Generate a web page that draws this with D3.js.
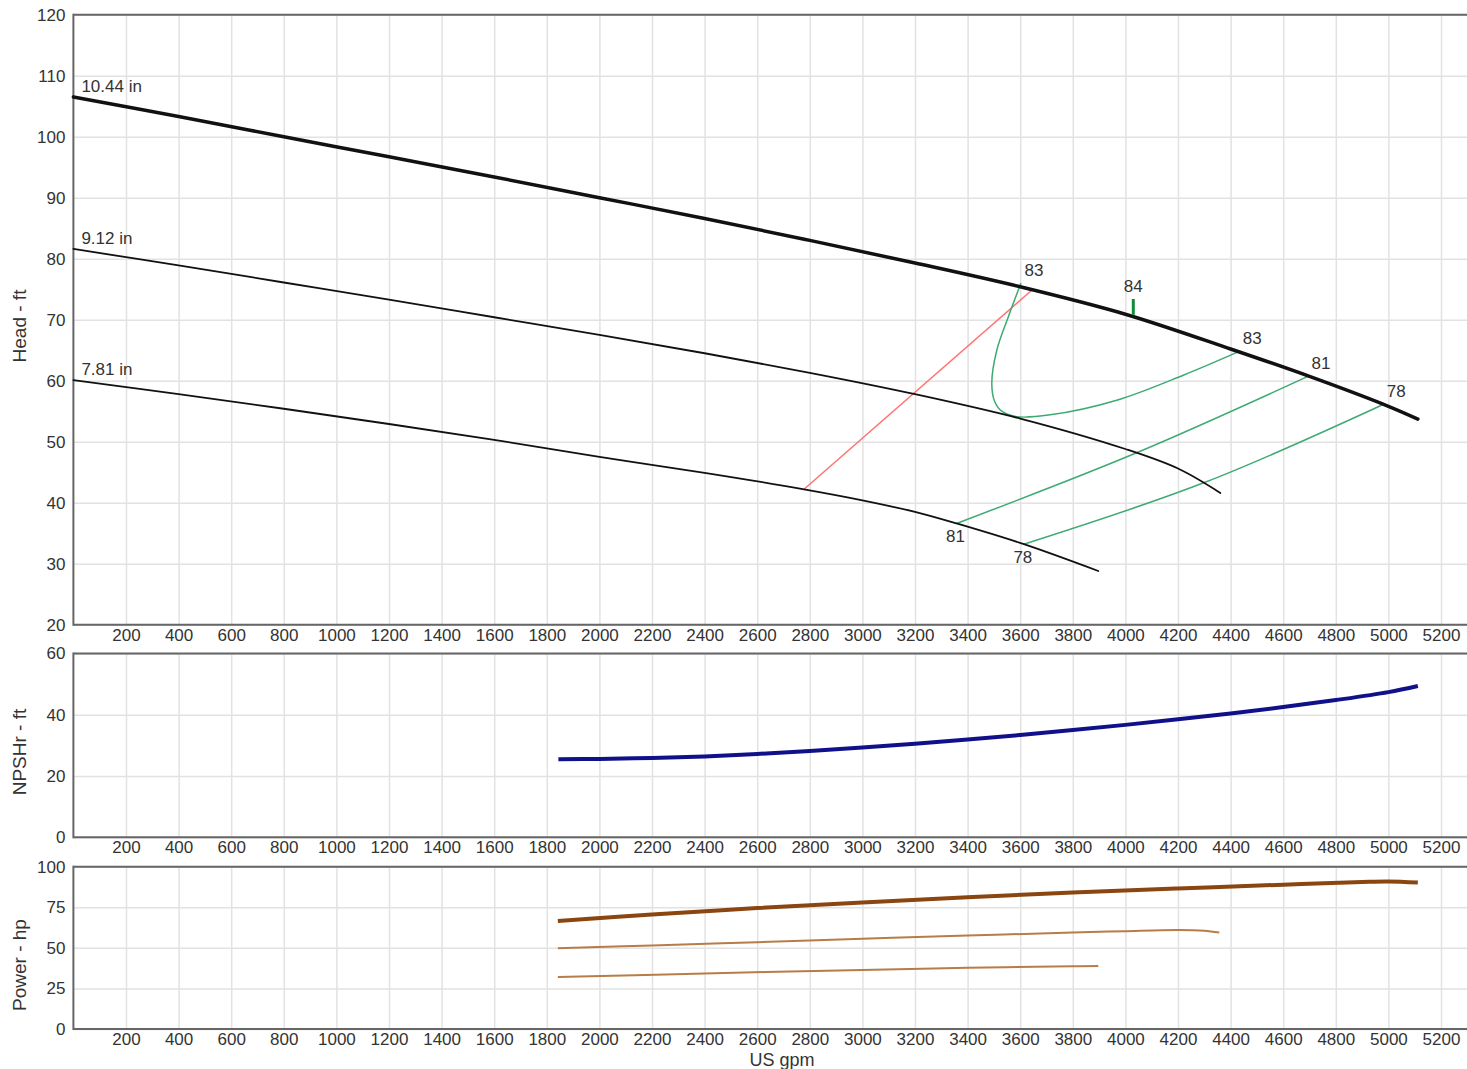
<!DOCTYPE html>
<html>
<head>
<meta charset="utf-8">
<script src="https://cdn.jsdelivr.net/npm/d3@7"></script>
<style>
  body { margin: 0; background: #fff; }
  text { font-family: "Liberation Sans", Arial, sans-serif; fill: #333; }
</style>
</head>
<body>
<div class="container"></div>
<script>
// head curves, [US gpm, ft]
const head1044 = [[0,106.5],[400,103.3],[800,100.0],[1200,96.7],[1600,93.4],[2000,90.0],[2400,86.6],[2800,83.0],[3200,79.3],[3600,75.4],[4000,70.9],[4400,65.2],[4700,60.7],[5000,55.8],[5112,53.7]];
const head912 = [[0,81.6],[400,78.9],[800,76.1],[1200,73.3],[1600,70.4],[2000,67.5],[2400,64.5],[2800,61.3],[3200,57.8],[3600,53.8],[4000,48.8],[4200,45.6],[4361,41.6]];
const head781 = [[0,60.1],[400,57.8],[800,55.4],[1200,52.9],[1600,50.3],[2000,47.5],[2400,44.9],[2778,42.2],[3000,40.4],[3200,38.5],[3358,36.6],[3614,33.2],[3897,28.8]];
const diameters = ["10.44 in", "9.12 in", "7.81 in"];

// efficiency (iso) lines
const eff83 = [[3603,76.0],[3555,70.5],[3511,65.0],[3492,59.6],[3503,56.6],[3530,55.0],[3587,54.1],[3714,54.4],[3967,56.8],[4220,60.9],[4433,64.8]];
const eff81 = [[3358,36.6],[4038,48.1],[4694,60.7]];
const eff78 = [[3614,33.2],[4300,43.3],[4980,56.1]];
const bepLine = [[2778,42.2],[3648,75.0]];
const eff84 = [[4030,70.8],[4030,73.4]];
const effLabels = [
  { text: "83", gpm: 3603, head: 76.0, pos: "above" },
  { text: "84", gpm: 4030, head: 73.4, pos: "top" },
  { text: "83", gpm: 4433, head: 64.8, pos: "above" },
  { text: "81", gpm: 4694, head: 60.7, pos: "above" },
  { text: "78", gpm: 4980, head: 56.1, pos: "above" },
  { text: "81", gpm: 3358, head: 36.6, pos: "below" },
  { text: "78", gpm: 3614, head: 33.2, pos: "below" }
];

// NPSHr, [US gpm, ft]
const npshr = [[1844,25.5],[2000,25.6],[2200,25.9],[2400,26.4],[2600,27.2],[2800,28.2],[3000,29.3],[3200,30.5],[3400,31.9],[3600,33.4],[3800,35.0],[4000,36.7],[4200,38.5],[4400,40.4],[4600,42.5],[4800,44.8],[5000,47.4],[5112,49.4]];

// power, [US gpm, hp]
const power1044 = [[1842,66.5],[2200,70.5],[2600,74.5],[3000,78.0],[3400,81.2],[3800,84.1],[4200,86.6],[4600,88.9],[4900,90.6],[5000,90.9],[5112,90.2]];
const power912 = [[1842,49.8],[2200,51.5],[2600,53.5],[3000,55.6],[3400,57.6],[3800,59.4],[4000,60.3],[4200,61.0],[4300,60.5],[4357,59.4]];
const power781 = [[1842,32.0],[2400,34.2],[3000,36.4],[3400,37.7],[3800,38.7],[3897,38.8]];

// tick labels
const gpmTicks = d3.range(200, 5201, 200);
const headTicks = [20, 30, 40, 50, 60, 70, 80, 90, 100, 110, 120];
const npshTicks = [0, 20, 40, 60];
const powerTicks = [0, 25, 50, 75, 100];

const width = 1467;
const height = 1069;

const svg = d3.select(".container")
  .append("svg")
  .attr("width", width)
  .attr("height", height);

const xScale = d3.scaleLinear()
  .domain([0, 5300])
  .range([73.4, 1467.3]);

// one panel per quantity
const panels = [
  { title: "Head - ft", top: 14.7, bottom: 624.7, titleY: 326, domain: [20, 120], ticks: headTicks },
  { title: "NPSHr - ft", top: 653.5, bottom: 837.3, titleY: 752, domain: [0, 60], ticks: npshTicks },
  { title: "Power - hp", top: 866.7, bottom: 1029, titleY: 965, domain: [0, 100], ticks: powerTicks }
];

const font = '"Liberation Sans", Arial, sans-serif';

panels.forEach(p => {
  p.y = d3.scaleLinear().domain(p.domain).range([p.bottom, p.top]);
  const h = p.bottom - p.top;

  // vertical grid
  svg.append("g")
    .attr("transform", `translate(0, ${p.bottom})`)
    .call(d3.axisBottom(xScale).tickValues(gpmTicks).tickSize(-h).tickFormat(""))
    .call(g => g.select(".domain").remove())
    .call(g => g.selectAll("line").attr("stroke", "#e2e2e2").attr("stroke-width", 1.5));

  // horizontal grid
  svg.append("g")
    .attr("transform", `translate(${xScale(0)}, 0)`)
    .call(d3.axisLeft(p.y).tickValues(p.ticks).tickSize(-(width - xScale(0))).tickFormat(""))
    .call(g => g.select(".domain").remove())
    .call(g => g.selectAll("line").attr("stroke", "#e2e2e2").attr("stroke-width", 1.5));

  // x labels
  svg.append("g")
    .attr("transform", `translate(0, ${p.bottom})`)
    .call(d3.axisBottom(xScale).tickValues(gpmTicks).tickSize(0).tickPadding(4).tickFormat(d3.format("d")))
    .call(g => g.select(".domain").remove())
    .call(g => g.selectAll("text").attr("font-size", "17px").attr("fill", "#333").attr("font-family", font));

  // y labels
  svg.append("g")
    .attr("transform", `translate(${xScale(0)}, 0)`)
    .call(d3.axisLeft(p.y).tickValues(p.ticks).tickSize(0).tickPadding(8))
    .call(g => g.select(".domain").remove())
    .call(g => g.selectAll("text").attr("font-size", "17px").attr("fill", "#333").attr("font-family", font));

  // frame: top, left, bottom
  const frame = svg.append("g").attr("stroke", "#666").attr("stroke-width", 2);
  frame.append("line").attr("x1", xScale(0)).attr("x2", width).attr("y1", p.top).attr("y2", p.top);
  frame.append("line").attr("x1", xScale(0)).attr("x2", width).attr("y1", p.bottom).attr("y2", p.bottom);
  frame.append("line").attr("x1", xScale(0)).attr("x2", xScale(0)).attr("y1", p.top - 1).attr("y2", p.bottom + 1);

  // axis title
  svg.append("text")
    .attr("transform", `translate(26, ${p.titleY}) rotate(-90)`)
    .attr("text-anchor", "middle")
    .attr("font-size", "19px")
    .text(p.title);
});

svg.append("text")
  .attr("x", 782)
  .attr("y", 1066)
  .attr("text-anchor", "middle")
  .attr("font-size", "18px")
  .text("US gpm");

const [headP, npshP, powerP] = panels;

function lineFor(p, curve) {
  return d3.line()
    .x(d => xScale(d[0]))
    .y(d => p.y(d[1]))
    .curve(curve || d3.curveMonotoneX);
}

// efficiency lines under the head curves
svg.append("path").datum(bepLine)
  .attr("fill", "none").attr("stroke", "#ff7373").attr("stroke-width", 1.5)
  .attr("d", lineFor(headP, d3.curveLinear));

[eff83, eff81, eff78].forEach(d => {
  svg.append("path").datum(d)
    .attr("fill", "none").attr("stroke", "#3daa72").attr("stroke-width", 1.5)
    .attr("d", lineFor(headP, d3.curveCatmullRom.alpha(0.5)));
});

// head curves
const headCurves = [
  { data: head1044, w: 3.5 },
  { data: head912, w: 1.8 },
  { data: head781, w: 1.8 }
];

headCurves.forEach((c, i) => {
  svg.append("path").datum(c.data)
    .attr("fill", "none").attr("stroke", "#111").attr("stroke-width", c.w)
    .attr("stroke-linecap", "round")
    .attr("d", lineFor(headP, d3.curveCatmullRom.alpha(0.5)));

  svg.append("text")
    .attr("x", xScale(0) + 8)
    .attr("y", headP.y(c.data[0][1]) - 5)
    .attr("font-size", "17px")
    .text(diameters[i]);
});

svg.append("path").datum(eff84)
  .attr("fill", "none").attr("stroke", "#138a3c").attr("stroke-width", 3)
  .attr("d", lineFor(headP, d3.curveLinear));

svg.append("g")
  .selectAll("text")
  .data(effLabels)
  .join("text")
  .attr("font-size", "17px")
  .attr("text-anchor", "middle")
  .attr("x", d => xScale(d.gpm) + (d.pos === "above" ? 13 : d.pos === "top" ? 0 : -1))
  .attr("y", d => headP.y(d.head) + (d.pos === "above" ? -7 : d.pos === "top" ? -7 : 19))
  .text(d => d.text);

// NPSHr
svg.append("path").datum(npshr)
  .attr("fill", "none").attr("stroke", "#10108a").attr("stroke-width", 4)
  .attr("d", lineFor(npshP, d3.curveCatmullRom.alpha(0.5)));

// power curves
[
  { data: power1044, color: "#8a4510", w: 4 },
  { data: power912, color: "#b87c48", w: 2 },
  { data: power781, color: "#b87c48", w: 2 }
].forEach(c => {
  svg.append("path").datum(c.data)
    .attr("fill", "none").attr("stroke", c.color).attr("stroke-width", c.w)
    .attr("d", lineFor(powerP, d3.curveCatmullRom.alpha(0.5)));
});
</script>
</body>
</html>
